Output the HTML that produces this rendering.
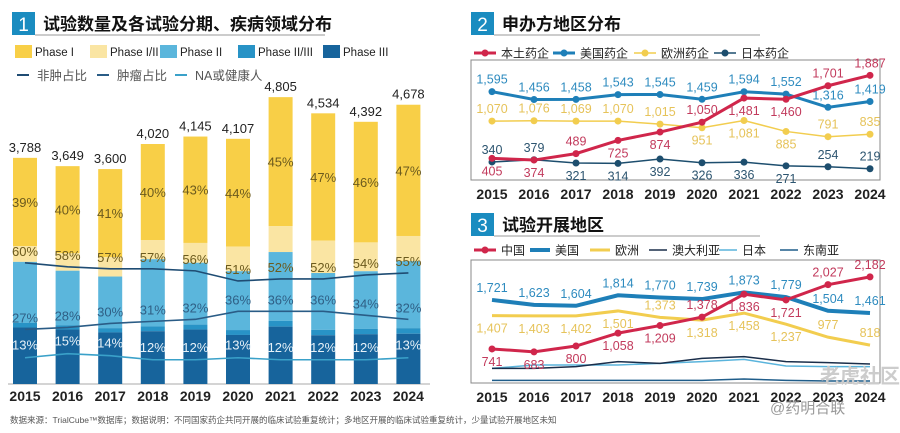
<!DOCTYPE html>
<html><head><meta charset="utf-8"><style>
body{margin:0;background:#fff;width:900px;height:428px;overflow:hidden;font-family:"Liberation Sans","Noto Sans CJK SC",sans-serif}
svg text{font-family:"Liberation Sans","Noto Sans CJK SC",sans-serif}
</style></head><body>
<svg id="s" width="900" height="428" viewBox="0 0 900 428" xmlns="http://www.w3.org/2000/svg"></svg>
<script>
const years=['2015','2016','2017','2018','2019','2020','2021','2022','2023','2024'];
// chart 1
const totals=[3788,3649,3600,4020,4145,4107,4805,4534,4392,4678];
const phase1=[39,40,41,40,43,44,45,47,46,47];
const phase12=[7,8,9,8,8,10,9,12,11,9];
const phase2=[27,25,24,28,25,24,24,21,22,24];
const phase23=[2,2,2,2,2,2,2,2,2,2];
const phase3=[25,25,24,22,22,20,20,18,19,18];
const nonOnc=[60,58,57,57,56,51,52,52,54,55];
const onc=[27,28,30,31,32,36,36,36,34,32];
const naPct=[13,15,14,12,12,13,12,12,12,13];
// chart 2
const sponsorDomestic=[405,374,489,725,874,1050,1481,1460,1701,1887];
const sponsorUS=[1595,1456,1458,1543,1545,1459,1594,1552,1316,1419];
const sponsorEU=[1070,1076,1069,1070,1015,951,1081,885,791,835];
const sponsorJP=[340,379,321,314,392,326,336,271,254,219];
const sideDomestic=[1,1,-1,1,1,-1,1,1,-1,-1];
const sideUS=[-1,-1,-1,-1,-1,-1,-1,-1,-1,-1];
const sideEU=[-1,-1,-1,-1,-1,1,1,1,-1,-1];
const sideJP=[-1,-1,1,1,1,1,1,1,-1,-1];
// chart 3
const siteCN=[741,683,800,1058,1209,1378,1836,1721,2027,2182];
const siteUS=[1721,1623,1604,1814,1770,1739,1873,1779,1504,1461];
const siteEU=[1407,1403,1402,1501,1373,1318,1458,1237,977,818];
const siteAU=[353,353,387,487,453,553,587,487,467,440];
const siteJP=[353,420,420,420,453,487,533,400,387,387];
const siteSEA=[113,113,113,113,113,113,140,113,100,100];
const sideCN=[1,1,1,1,1,-1,1,1,-1,-1];
const sideUS3=[-1,-1,-1,-1,-1,-1,-1,-1,-1,-1];
const sideEU3=[1,1,1,1,-1,1,1,1,-1,-1];

const S=document.getElementById('s');
function el(tag,attrs,parent){const e=document.createElementNS('http://www.w3.org/2000/svg',tag);for(const k in attrs)e.setAttribute(k,attrs[k]);(parent||S).appendChild(e);return e;}
function txt(x,y,t,attrs,parent){const e=el('text',Object.assign({x:x,y:y},attrs||{}),parent);e.textContent=t;return e;}
const fmt=v=>v.toLocaleString('en-US');

function header(x,y,num,title,lineEnd,name){
  const g=el('g',{});
  
  
  el('rect',{x:x,y:y,width:23,height:23,fill:'#1a8cc0'},g);
  txt(x+11.5,y+19,num,{fill:'#fff','font-size':19,'text-anchor':'middle'},g);
  txt(x+31,y+18,title,{fill:'#111','font-size':17,'font-weight':'bold'},g);
  el('line',{x1:x+23,y1:y+23,x2:lineEnd,y2:y+23,stroke:'#999','stroke-width':1},g);
}

/* ---------- Chart 1 ---------- */
header(12,12,'1','试验数量及各试验分期、疾病领域分布',325,'chart1-title');
const c1Colors=['#f8cf47','#fae5a3','#5bb6dc','#2893c6','#17649c'];
const c1Names=['Phase I','Phase I/II','Phase II','Phase II/III','Phase III'];
const lg1=el('g',{});


const lgX=[15,90,160,238,323];
c1Names.forEach((n,i)=>{
  const it=el('g',{},lg1);
  
  
  el('rect',{x:lgX[i],y:45,width:17,height:13,fill:c1Colors[i]},it);
  txt(lgX[i]+20,56,n,{'font-size':11.5,fill:'#222'},it);
});
const lineNames=['非肿占比','肿瘤占比','NA或健康人'];
const lineColors=['#1f4c73','#2a5c86','#3aa1c9'];
const lgLX=[17,97,175];
lineNames.forEach((n,i)=>{
  const it=el('g',{},lg1);
  
  
  el('line',{x1:lgLX[i],y1:75,x2:lgLX[i]+12,y2:75,stroke:lineColors[i],'stroke-width':2},it);
  txt(lgLX[i]+20,80,n,{'font-size':12.5,fill:'#555'},it);
});
const base1=384, x1=i=>25+i*42.6, yPx=v=>v*0.0597, linY=p=>base1-p*2.02;
el('line',{x1:8,y1:base1,x2:430,y2:base1,stroke:'#aaa'});
const segs=[phase1,phase12,phase2,phase23,phase3];
years.forEach((yr,i)=>{
  const g=el('g',{});
  
  
  const h=yPx(totals[i]); let top=base1-h;
  let y=top;
  segs.forEach((arr,k)=>{
    const sh=h*arr[i]/100;
    const r=el('rect',{x:x1(i)-12,y:y,width:24,height:sh,fill:c1Colors[k]},g);
    
    
    if(k===0) txt(x1(i),y+sh/2+5,phase1[i]+'%',{'font-size':13,fill:'#6b5a1e','text-anchor':'middle'},g);
    y+=sh;
  });
  txt(x1(i),top-6,fmt(totals[i]),{'font-size':13,fill:'#222','text-anchor':'middle'},g);
  txt(x1(i),base1+17,yr,{'font-size':14,'font-weight':'bold',fill:'#222','text-anchor':'middle'});
});
const lblColors=['#6b5a1e','#2f5f85','#e6f1f8'];
[nonOnc,onc,naPct].forEach((arr,k)=>{
  const pl=el('polyline',{points:arr.map((v,i)=>x1(i)+','+linY(v)).join(' '),fill:'none',stroke:lineColors[k],'stroke-width':1.6});
  
  
  arr.forEach((v,i)=>txt(x1(i),linY(v)-(k===2?8:7),v+'%',{'font-size':13,fill:lblColors[k],'text-anchor':'middle'}));
});
txt(10,423,'数据来源：TrialCube™数据库；数据说明：不同国家药企共同开展的临床试验重复统计；多地区开展的临床试验重复统计，少量试验开展地区未知',{'font-size':8.5,fill:'#555'});

/* ---------- Chart 2 ---------- */
header(471,12,'2','申办方地区分布',760,'chart2-title');
function lineChart(cfg){
  const {series,box,yFn,xFn,name}=cfg;
  el('rect',{x:box[0],y:box[1],width:box[2],height:box[3],fill:'none',stroke:'#888','stroke-width':1});
  series.forEach(s=>{
    const g=el('g',{});
    
    
    el('polyline',{points:s.data.map((v,i)=>xFn(i)+','+yFn(v)).join(' '),fill:'none',stroke:s.color,'stroke-width':s.w},g);
    if(s.dots) s.data.forEach((v,i)=>{const c=el('circle',{cx:xFn(i),cy:yFn(v),r:3.5,fill:s.color},g);});
    if(s.side) s.data.forEach((v,i)=>txt(xFn(i),yFn(v)+(s.side[i]<0?-8:17),fmt(v),{'font-size':12.5,fill:s.label,'text-anchor':'middle'},g));
  });
  years.forEach((yr,i)=>txt(xFn(i),box[1]+box[3]+19,yr,{'font-size':14,'font-weight':'bold',fill:'#222','text-anchor':'middle'}));
}
function legend(items,y,name){
  const g=el('g',{});
  
  
  items.forEach(it=>{
    const e=el('g',{},g);
    
    
    el('line',{x1:it.x,y1:y,x2:it.x+it.len,y2:y,stroke:it.c,'stroke-width':it.w},e);
    if(it.dot) el('circle',{cx:it.x+it.len/2,cy:y,r:3.5,fill:it.c},e);
    txt(it.x+it.len+5,y+4.5,it.t,{'font-size':12,fill:'#222'},e);
  });
}
legend([{id:'domestic',x:474,len:22,c:'#d0264b',w:3,dot:1,t:'本土药企'},{id:'us',x:553,len:22,c:'#1e7fb8',w:3,dot:1,t:'美国药企'},{id:'eu',x:634,len:22,c:'#f2cd4f',w:1.5,dot:1,t:'欧洲药企'},{id:'jp',x:714,len:22,c:'#1d4e6e',w:1.5,dot:1,t:'日本药企'}],53,'chart2-legend');
lineChart({name:'chart2',box:[471,60,409,120],xFn:i=>492+i*42,yFn:v=>181-v*0.056,series:[
  {id:'eu',data:sponsorEU,color:'#f2cd4f',w:1.5,dots:1,side:sideEU,label:'#e6c35a'},
  {id:'jp',data:sponsorJP,color:'#1d4e6e',w:1.5,dots:1,side:sideJP,label:'#2d5570'},
  {id:'us',data:sponsorUS,color:'#1e7fb8',w:3,dots:1,side:sideUS,label:'#2e8bbf'},
  {id:'domestic',data:sponsorDomestic,color:'#d0264b',w:3,dots:1,side:sideDomestic,label:'#c23a5c'}]});

/* ---------- Chart 3 ---------- */
header(471,213,'3','试验开展地区',760,'chart3-title');
legend([{id:'cn',x:474,len:22,c:'#d0264b',w:3,dot:1,t:'中国'},{id:'us',x:530,len:20,c:'#1e7fb8',w:4,t:'美国'},{id:'eu',x:590,len:20,c:'#f2cd4f',w:3,t:'欧洲'},{id:'au',x:649,len:18,c:'#1a2e4a',w:1.5,t:'澳大利亚'},{id:'jp',x:719,len:18,c:'#5ab4dc',w:1.5,t:'日本'},{id:'sea',x:780,len:18,c:'#1f5d8a',w:1.5,t:'东南亚'}],250,'chart3-legend');
lineChart({name:'chart3',box:[471,260,409,123],xFn:i=>492+i*42,yFn:v=>386-v*0.05,series:[
  {id:'sea',data:siteSEA,color:'#1f5d8a',w:1.5},
  {id:'jp',data:siteJP,color:'#5ab4dc',w:1.5},
  {id:'au',data:siteAU,color:'#1a2e4a',w:1.5},
  {id:'eu',data:siteEU,color:'#f2cd4f',w:3,side:sideEU3,label:'#e6c35a'},
  {id:'us',data:siteUS,color:'#1e7fb8',w:4,side:sideUS3,label:'#2e8bbf'},
  {id:'cn',data:siteCN,color:'#d0264b',w:3,dots:1,side:sideCN,label:'#c23a5c'}]});
txt(770,413,'@药明合联',{'font-size':15,fill:'#999'});
txt(820,383,'老虎社区',{'font-size':20,fill:'#ccc','font-weight':'bold'});
</script>
</body></html>
